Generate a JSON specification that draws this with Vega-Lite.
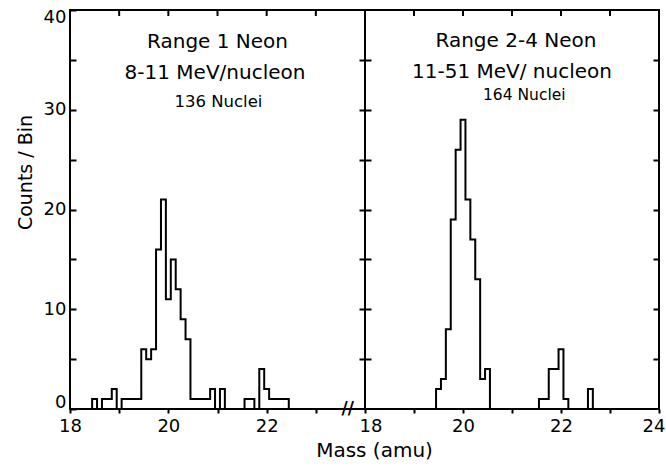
{
  "$schema": "https://vega.github.io/schema/vega-lite/v6.json",
  "background": "white",
  "padding": {"left": 15, "top": 7, "right": 2, "bottom": 4},
  "datasets": {
    "left": [
      {"mass": 18.35, "count": 0}, {"mass": 18.45, "count": 1}, {"mass": 18.55, "count": 0},
      {"mass": 18.65, "count": 1}, {"mass": 18.75, "count": 1}, {"mass": 18.85, "count": 2},
      {"mass": 18.95, "count": 0}, {"mass": 19.05, "count": 1}, {"mass": 19.15, "count": 1},
      {"mass": 19.25, "count": 1}, {"mass": 19.35, "count": 1}, {"mass": 19.45, "count": 6},
      {"mass": 19.55, "count": 5}, {"mass": 19.65, "count": 6}, {"mass": 19.75, "count": 16},
      {"mass": 19.85, "count": 21}, {"mass": 19.95, "count": 11}, {"mass": 20.05, "count": 15},
      {"mass": 20.15, "count": 12}, {"mass": 20.25, "count": 9}, {"mass": 20.35, "count": 7},
      {"mass": 20.45, "count": 1}, {"mass": 20.55, "count": 1}, {"mass": 20.65, "count": 1},
      {"mass": 20.75, "count": 1}, {"mass": 20.85, "count": 2}, {"mass": 20.95, "count": 0},
      {"mass": 21.05, "count": 2}, {"mass": 21.15, "count": 0}, {"mass": 21.25, "count": 0},
      {"mass": 21.35, "count": 0}, {"mass": 21.45, "count": 0}, {"mass": 21.55, "count": 1},
      {"mass": 21.65, "count": 1}, {"mass": 21.75, "count": 0}, {"mass": 21.85, "count": 4},
      {"mass": 21.95, "count": 2}, {"mass": 22.05, "count": 1}, {"mass": 22.15, "count": 1},
      {"mass": 22.25, "count": 1}, {"mass": 22.35, "count": 1}, {"mass": 22.45, "count": 0}
    ],
    "right": [
      {"mass": 19.35, "count": 0}, {"mass": 19.45, "count": 2}, {"mass": 19.55, "count": 3},
      {"mass": 19.65, "count": 8}, {"mass": 19.75, "count": 19}, {"mass": 19.85, "count": 26},
      {"mass": 19.95, "count": 29}, {"mass": 20.05, "count": 21}, {"mass": 20.15, "count": 17},
      {"mass": 20.25, "count": 13}, {"mass": 20.35, "count": 3}, {"mass": 20.45, "count": 4},
      {"mass": 20.55, "count": 0}, {"mass": 20.65, "count": 0}, {"mass": 20.75, "count": 0},
      {"mass": 20.85, "count": 0}, {"mass": 20.95, "count": 0}, {"mass": 21.05, "count": 0},
      {"mass": 21.15, "count": 0}, {"mass": 21.25, "count": 0}, {"mass": 21.35, "count": 0},
      {"mass": 21.45, "count": 0}, {"mass": 21.55, "count": 1}, {"mass": 21.65, "count": 1},
      {"mass": 21.75, "count": 4}, {"mass": 21.85, "count": 4}, {"mass": 21.95, "count": 6},
      {"mass": 22.05, "count": 1}, {"mass": 22.15, "count": 0}, {"mass": 22.25, "count": 0},
      {"mass": 22.35, "count": 0}, {"mass": 22.45, "count": 0}, {"mass": 22.55, "count": 2},
      {"mass": 22.65, "count": 0}
    ],
    "topTicks": [
      {"mass": 19}, {"mass": 20}, {"mass": 21}, {"mass": 22}, {"mass": 23}
    ]
  },
  "config": {
    "font": "DejaVu Sans",
    "view": {"stroke": "black", "strokeWidth": 2},
    "axis": {
      "domain": false, "grid": false, "labelFontSize": 18, "labelColor": "black",
      "tickColor": "black", "tickWidth": 2, "titleFontWeight": "normal",
      "titleColor": "black", "titleFontSize": 19, "labelFlush": false
    },
    "text": {"color": "black"}
  },
  "spacing": 0,
  "bounds": "flush",
  "hconcat": [
    {
      "width": 295,
      "height": 399,
      "resolve": {"axis": {"x": "independent", "y": "independent"}},
      "layer": [
        {
          "data": {"name": "left"},
          "mark": {"type": "line", "interpolate": "step-after", "color": "black", "strokeWidth": 2},
          "encoding": {
            "x": {
              "field": "mass", "type": "quantitative",
              "scale": {"domain": [18, 24], "nice": false, "zero": false},
              "axis": {
                "orient": "bottom", "values": [18, 19, 20, 21, 22, 23],
                "labelExpr": "datum.value % 2 === 0 ? datum.label : ''",
                "tickSize": 4, "labelPadding": 4,
                "title": "Mass  (amu)", "titleX": 304, "titleY": 41, "titleFontSize": 20,
                "titleBaseline": "middle", "titleAlign": "center"
              }
            },
            "y": {
              "field": "count", "type": "quantitative",
              "scale": {"domain": [0, 40], "nice": false},
              "axis": {
                "orient": "left", "values": [0, 5, 10, 15, 20, 25, 30, 35, 40],
                "labelExpr": "datum.value % 10 === 0 ? datum.label : ''",
                "tickSize": -6, "labelPadding": 10, "labelFlush": true, "labelFlushOffset": 2,
                "title": "Counts / Bin", "titlePadding": 8, "titleY": 162
              }
            }
          }
        },
        {
          "data": {"name": "topTicks"},
          "mark": {"type": "rule", "color": "black", "strokeWidth": 2},
          "encoding": {
            "x": {"field": "mass", "type": "quantitative", "axis": null},
            "y": {"datum": 40, "type": "quantitative", "axis": {
              "orient": "right", "values": [5, 10, 15, 20, 25, 30, 35], "labels": false,
              "tickSize": -6, "title": null}},
            "y2": {"datum": 39.4}
          }
        },
        {
          "data": {"values": [{}]},
          "mark": {"type": "text", "fontSize": 20, "align": "center", "baseline": "middle"},
          "encoding": {
            "x": {"datum": 21.0, "type": "quantitative", "axis": null},
            "y": {"datum": 36.8, "type": "quantitative", "axis": null},
            "text": {"value": "Range 1 Neon"}
          }
        },
        {
          "data": {"values": [{}]},
          "mark": {"type": "text", "fontSize": 20, "align": "center", "baseline": "middle"},
          "encoding": {
            "x": {"datum": 20.95, "type": "quantitative", "axis": null},
            "y": {"datum": 33.7, "type": "quantitative", "axis": null},
            "text": {"value": "8-11 MeV/nucleon"}
          }
        },
        {
          "data": {"values": [{}]},
          "mark": {"type": "text", "fontSize": 16.5, "align": "center", "baseline": "middle"},
          "encoding": {
            "x": {"datum": 21.02, "type": "quantitative", "axis": null},
            "y": {"datum": 30.8, "type": "quantitative", "axis": null},
            "text": {"value": "136 Nuclei"}
          }
        },
        {
          "data": {"values": [{}]},
          "mark": {"type": "text", "fontSize": 17, "fontWeight": "bold", "align": "center", "baseline": "middle"},
          "encoding": {
            "x": {"datum": 23.65, "type": "quantitative", "axis": null},
            "y": {"datum": 0, "type": "quantitative", "axis": null},
            "text": {"value": "//"}
          }
        }
      ]
    },
    {
      "width": 294,
      "height": 399,
      "resolve": {"axis": {"x": "independent", "y": "independent"}},
      "layer": [
        {
          "data": {"name": "right"},
          "mark": {"type": "line", "interpolate": "step-after", "color": "black", "strokeWidth": 2},
          "encoding": {
            "x": {
              "field": "mass", "type": "quantitative",
              "scale": {"domain": [18, 24], "nice": false, "zero": false},
              "axis": {
                "orient": "bottom", "values": [18, 19, 20, 21, 22, 23, 24],
                "labelExpr": "datum.value % 2 === 0 ? datum.label : ''",
                "tickSize": 4, "labelPadding": 4, "title": null,
                "labelFlush": true, "labelFlushOffset": 6
              }
            },
            "y": {
              "field": "count", "type": "quantitative",
              "scale": {"domain": [0, 40], "nice": false},
              "axis": {
                "orient": "left", "values": [5, 10, 15, 20, 25, 30, 35],
                "labels": false, "tickSize": -6, "title": null
              }
            }
          }
        },
        {
          "data": {"name": "topTicks"},
          "mark": {"type": "rule", "color": "black", "strokeWidth": 2},
          "encoding": {
            "x": {"field": "mass", "type": "quantitative", "axis": null},
            "y": {"datum": 40, "type": "quantitative", "axis": {
              "orient": "right", "values": [5, 10, 15, 20, 25, 30, 35], "labels": false,
              "tickSize": -6, "title": null}},
            "y2": {"datum": 39.4}
          }
        },
        {
          "data": {"values": [{}]},
          "mark": {"type": "text", "fontSize": 20, "align": "center", "baseline": "middle"},
          "encoding": {
            "x": {"datum": 21.08, "type": "quantitative", "axis": null},
            "y": {"datum": 36.9, "type": "quantitative", "axis": null},
            "text": {"value": "Range 2-4 Neon"}
          }
        },
        {
          "data": {"values": [{}]},
          "mark": {"type": "text", "fontSize": 20, "align": "center", "baseline": "middle"},
          "encoding": {
            "x": {"datum": 21.0, "type": "quantitative", "axis": null},
            "y": {"datum": 33.8, "type": "quantitative", "axis": null},
            "text": {"value": "11-51 MeV/ nucleon"}
          }
        },
        {
          "data": {"values": [{}]},
          "mark": {"type": "text", "fontSize": 15.5, "align": "center", "baseline": "middle"},
          "encoding": {
            "x": {"datum": 21.25, "type": "quantitative", "axis": null},
            "y": {"datum": 31.5, "type": "quantitative", "axis": null},
            "text": {"value": "164 Nuclei"}
          }
        }
      ]
    }
  ]
}
